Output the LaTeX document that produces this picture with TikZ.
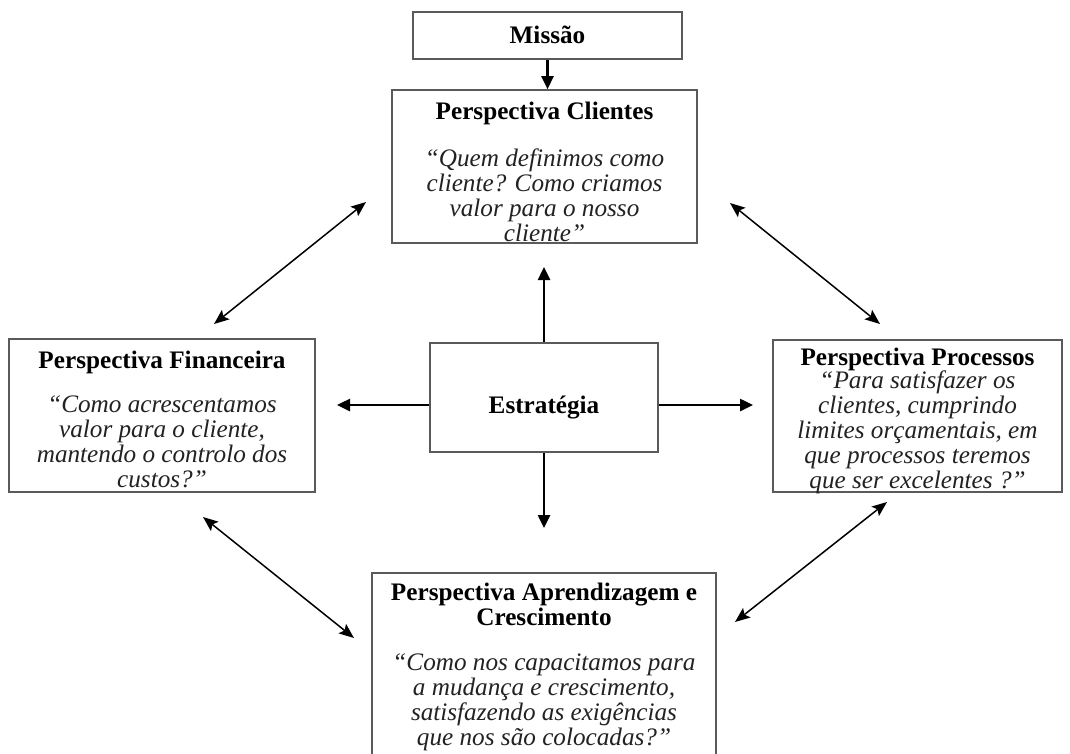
\documentclass[tikz,border=0pt]{standalone}
\usepackage{fontspec}
\setmainfont{Liberation Serif}
\usetikzlibrary{arrows.meta}
\definecolor{boxgray}{HTML}{5A5A5A}
\definecolor{txtgray}{HTML}{222222}
\begin{document}
\begin{tikzpicture}[x=1pt,y=-1pt,
  boxst/.style={draw=boxgray, line width=1.6pt, fill=white, inner sep=0pt, rectangle},
  ttl/.style={font=\fontsize{25.2}{25}\selectfont\bfseries, text=black, align=center, inner sep=0pt},
  qt/.style={font=\fontsize{25.2}{25}\selectfont\itshape, text=txtgray, align=center, inner sep=0pt},
  thickarr/.style={line width=2.5pt, -{Triangle[length=13pt,width=12pt]}},
  dblarr/.style={line width=1.5pt, {Stealth[length=15pt,width=12pt,inset=3pt]}-{Stealth[length=15pt,width=12pt,inset=3pt]}}]
\useasboundingbox (0,0) rectangle (1070,753);
\fill[white] (0,0) rectangle (1070,753);

% boxes
\node[boxst, minimum width=269pt, minimum height=47pt] (mis) at (547.5,35.5) {};
\node[boxst, minimum width=305pt, minimum height=153pt] (cli) at (544.5,166.5) {};
\node[boxst, minimum width=306pt, minimum height=153pt] (fin) at (162,415.5) {};
\node[boxst, minimum width=228pt, minimum height=109pt] (est) at (544,397.5) {};
\node[boxst, minimum width=289pt, minimum height=152pt] (pro) at (917.5,416) {};
\node[boxst, minimum width=344pt, minimum height=192pt] (apr) at (544,669) {};

% texts
\node[ttl] (misT) at (547.5,35) {Missão};
\node[ttl] (cliT) at (544.5,113) {Perspectiva Clientes};
\node[qt] (cliQ) at (544.5,195) {“Quem definimos como\\cliente? Como criamos\\valor para o nosso\\cliente”};
\node[ttl] (finT) at (162,362) {Perspectiva Financeira};
\node[qt] (finQ) at (162,442) {“Como acrescentamos\\valor para o cliente,\\mantendo o controlo dos\\custos?”};
\node[ttl] (estT) at (544,408) {Estratégia};
\node[ttl] (proT) at (917.5,359) {Perspectiva Processos};
\node[qt] (proQ) at (917.5,432) {“Para satisfazer os\\clientes, cumprindo\\limites orçamentais, em\\que processos teremos\\que ser excelentes ?”};
\node[ttl] (aprT) at (544,604) {Perspectiva Aprendizagem e\\Crescimento};
\node[qt] (aprQ) at (544,702) {“Como nos capacitamos para\\a mudança e crescimento,\\satisfazendo as exigências\\que nos são colocadas?”};

% arrow end points
\coordinate (upend) at (544,267);
\coordinate (lend) at (337,405);
\coordinate (rend) at (753,405);
\coordinate (dend) at (544,528);
\coordinate (d1a) at (366,202);
\coordinate (d1b) at (214,324);
\coordinate (d2a) at (730,203);
\coordinate (d2b) at (880,324);
\coordinate (d3a) at (203,517);
\coordinate (d3b) at (354,638);
\coordinate (d4a) at (887,502);
\coordinate (d4b) at (735,622);

% arrows
\draw[thickarr] (mis.south) -- (mis.south |- cli.north);
\draw[thickarr] (est.north) -- (upend);
\draw[thickarr] (est.west |- lend) -- (lend);
\draw[thickarr] (est.east |- rend) -- (rend);
\draw[thickarr] (est.south) -- (dend);
\draw[dblarr] (d1a) -- (d1b);
\draw[dblarr] (d2a) -- (d2b);
\draw[dblarr] (d3a) -- (d3b);
\draw[dblarr] (d4a) -- (d4b);
\end{tikzpicture}
\end{document}
